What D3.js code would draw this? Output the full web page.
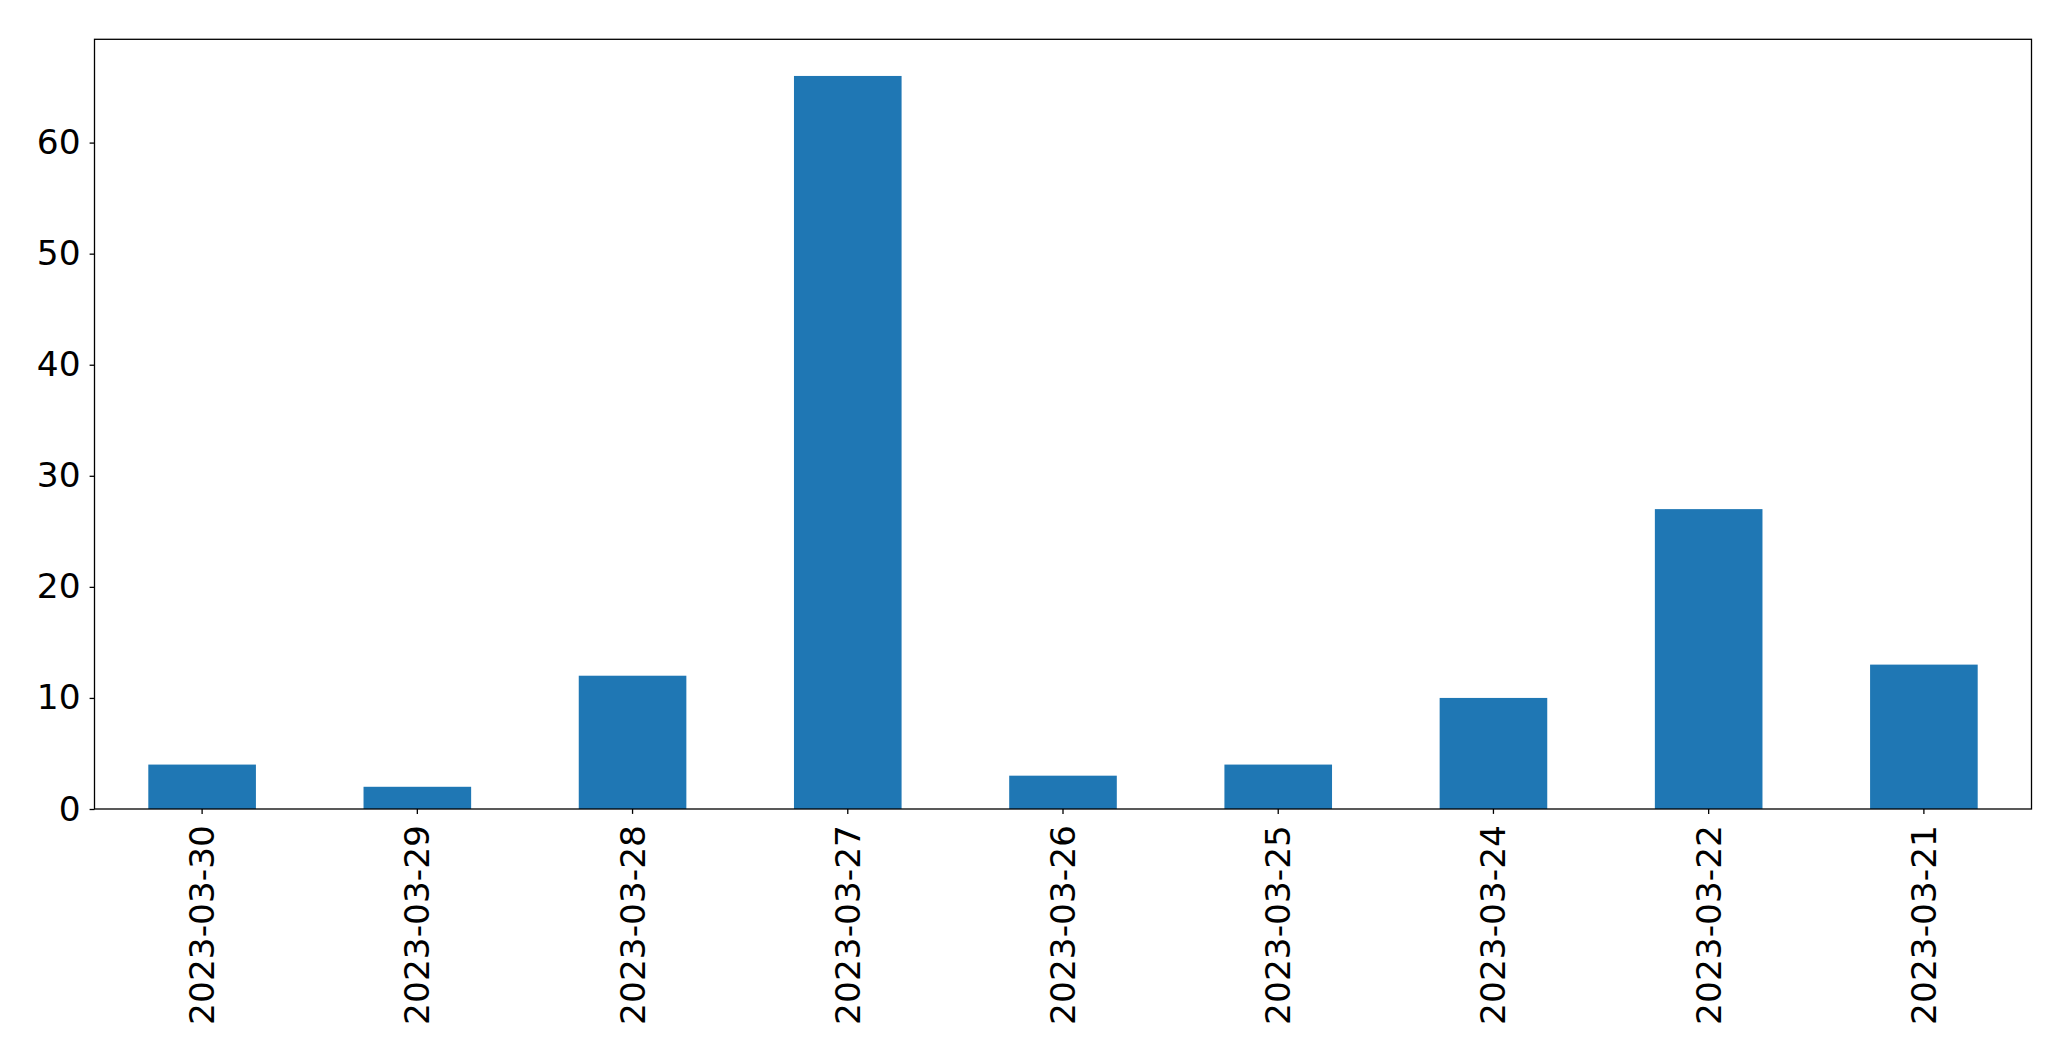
<!DOCTYPE html>
<html>
<head>
<meta charset="utf-8">
<script src="https://cdn.jsdelivr.net/npm/d3@7"></script>
<style>
  html, body { margin: 0; padding: 0; background: #fff; }
  svg { display: block; }
  text { font-family: "DejaVu Sans", sans-serif; fill: #000; }
</style>
</head>
<body>
<script>
const categories = ["2023-03-30","2023-03-29","2023-03-28","2023-03-27","2023-03-26","2023-03-25","2023-03-24","2023-03-22","2023-03-21"];
const values = [4, 2, 12, 66, 3, 4, 10, 27, 13];
const yTicks = [0, 10, 20, 30, 40, 50, 60];

const W = 2071, H = 1061;
const m = { left: 94.5, right: 2031.5, top: 39.3, bottom: 809 };
const fontSize = 34.4;

const svg = d3.select("body").append("svg").attr("width", W).attr("height", H);

const x = d3.scaleBand().domain(categories).range([m.left, m.right]).paddingInner(0.5).paddingOuter(0.25);
const y = d3.scaleLinear().domain([0, d3.max(values) * 1.05]).range([m.bottom, m.top]);

svg.append("g").selectAll("rect").data(values).join("rect")
  .attr("x", (d, i) => x(categories[i]))
  .attr("width", x.bandwidth())
  .attr("y", d => y(d))
  .attr("height", d => y(0) - y(d))
  .attr("fill", "#1f77b4");

// frame
svg.append("rect")
  .attr("x", m.left).attr("y", m.top)
  .attr("width", m.right - m.left).attr("height", m.bottom - m.top)
  .attr("fill", "none").attr("stroke", "#000").attr("stroke-width", 1.3);

// y axis
const yAxis = d3.axisLeft(y).tickValues(yTicks).tickSize(4.9).tickPadding(9).tickFormat(d3.format("d"));
const gy = svg.append("g").attr("transform", `translate(${m.left},0)`).call(yAxis);
gy.select(".domain").remove();
gy.selectAll(".tick line").attr("stroke", "#000").attr("stroke-width", 1.3);
gy.selectAll(".tick text").attr("font-size", fontSize).attr("font-family", "DejaVu Sans");

// x axis
const xAxis = d3.axisBottom(x).tickSize(4.9).tickPadding(12);
const gx = svg.append("g").attr("transform", `translate(0,${m.bottom})`).call(xAxis);
gx.select(".domain").remove();
gx.selectAll(".tick line").attr("stroke", "#000").attr("stroke-width", 1.3);
gx.selectAll(".tick text")
  .attr("font-size", fontSize).attr("font-family", "DejaVu Sans")
  .attr("transform", "rotate(-90)")
  .attr("text-anchor", "end")
  .attr("x", -16).attr("y", 0).attr("dy", "0.35em");
</script>
</body>
</html>
